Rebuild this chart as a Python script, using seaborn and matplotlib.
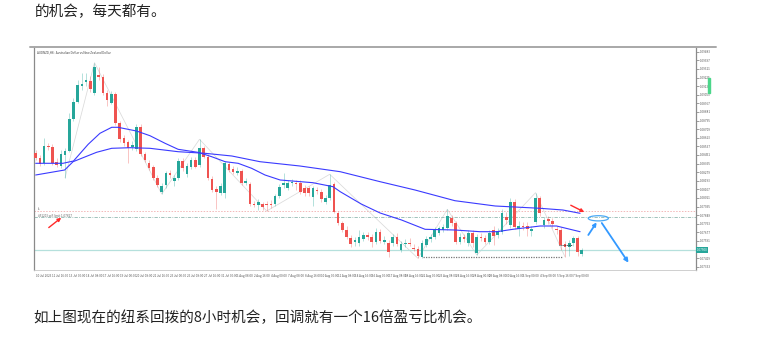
import numpy as np
import pandas as pd
import matplotlib
matplotlib.use("Agg")
import matplotlib.pyplot as plt
import seaborn as sns
from matplotlib.patches import Ellipse, Rectangle
from matplotlib.lines import Line2D

# ---- data (H8 candles) ----
opens = [1.08470, 1.08423, 1.08367, 1.08543, 1.08533, 1.08383, 1.08343, 1.08450, 1.08493, 1.08810,
         1.08983, 1.09143, 1.09183, 1.09190, 1.09067, 1.09250, 1.09233, 1.09073, 1.08973, 1.09060,
         1.08767, 1.08617, 1.08577, 1.08530, 1.08510, 1.08733, 1.08457, 1.08373, 1.08327, 1.08223,
         1.08083, 1.08150, 1.08267, 1.08193, 1.08223, 1.08390, 1.08257, 1.08333, 1.08400, 1.08350,
         1.08517, 1.08433, 1.08207, 1.08107, 1.08073, 1.08073, 1.08357, 1.08313, 1.08273, 1.08290,
         1.08173, 1.08160, 1.07963, 1.07953, 1.07957, 1.07963, 1.07963, 1.07957, 1.08040, 1.08150,
         1.08117, 1.08167, 1.08173, 1.08173, 1.08123, 1.08117, 1.08033, 1.08100, 1.08083, 1.07983,
         1.08017, 1.08160, 1.07867, 1.07767, 1.07700, 1.07623, 1.07583, 1.07567, 1.07607, 1.07650,
         1.07627, 1.07583, 1.07683, 1.07583, 1.07567, 1.07567, 1.07633, 1.07500, 1.07557, 1.07573,
         1.07523, 1.07510, 1.07433, 1.07550, 1.07607, 1.07627, 1.07667, 1.07700, 1.07717, 1.07817,
         1.07767, 1.07583, 1.07627, 1.07567, 1.07667, 1.07467, 1.07633, 1.07617, 1.07583, 1.07700,
         1.07650, 1.07683, 1.07833, 1.07750, 1.07983, 1.07707, 1.07740, 1.07740, 1.07693, 1.07783,
         1.08017, 1.07750, 1.07810, 1.07793, 1.07707, 1.07700, 1.07557, 1.07527, 1.07567, 1.07617,
         1.07457]
highs = [1.08500, 1.08450, 1.08620, 1.08570, 1.08560, 1.08420, 1.08500, 1.08520, 1.08870, 1.09020,
         1.09200, 1.09270, 1.09270, 1.09240, 1.09373, 1.09330, 1.09260, 1.09100, 1.09090, 1.09080,
         1.08790, 1.08650, 1.08600, 1.08590, 1.08760, 1.08760, 1.08480, 1.08400, 1.08350, 1.08250,
         1.08170, 1.08290, 1.08300, 1.08250, 1.08420, 1.08420, 1.08370, 1.08430, 1.08430, 1.08607,
         1.08540, 1.08460, 1.08240, 1.08140, 1.08170, 1.08390, 1.08380, 1.08340, 1.08330, 1.08310,
         1.08220, 1.08180, 1.07990, 1.08010, 1.07980, 1.07990, 1.08000, 1.08060, 1.08160, 1.08267,
         1.08200, 1.08210, 1.08200, 1.08200, 1.08150, 1.08140, 1.08140, 1.08130, 1.08110, 1.08050,
         1.08257, 1.08180, 1.07890, 1.07790, 1.07740, 1.07650, 1.07630, 1.07700, 1.07680, 1.07680,
         1.07660, 1.07720, 1.07710, 1.07640, 1.07600, 1.07660, 1.07670, 1.07590, 1.07610, 1.07620,
         1.07560, 1.07540, 1.07600, 1.07640, 1.07660, 1.07730, 1.07740, 1.07760, 1.07907, 1.07850,
         1.07790, 1.07670, 1.07660, 1.07700, 1.07700, 1.07660, 1.07670, 1.07650, 1.07700, 1.07740,
         1.07720, 1.07910, 1.07880, 1.08020, 1.08010, 1.07790, 1.07780, 1.07780, 1.07740, 1.08073,
         1.08040, 1.07830, 1.07840, 1.07820, 1.07740, 1.07730, 1.07590, 1.07600, 1.07640, 1.07640,
         1.07520]
lows = [1.08400, 1.08340, 1.08350, 1.08500, 1.08350, 1.08330, 1.08320, 1.08223, 1.08480, 1.08790,
        1.08970, 1.09100, 1.09140, 1.09080, 1.09050, 1.09200, 1.09050, 1.08940, 1.08960, 1.08750,
        1.08580, 1.08540, 1.08370, 1.08500, 1.08490, 1.08440, 1.08380, 1.08300, 1.08200, 1.08130,
        1.08060, 1.08120, 1.08220, 1.08140, 1.08200, 1.08290, 1.08230, 1.08310, 1.08320, 1.08330,
        1.08420, 1.08200, 1.08080, 1.07910, 1.08050, 1.08020, 1.08280, 1.08260, 1.08250, 1.08150,
        1.08150, 1.07940, 1.07930, 1.07900, 1.07900, 1.07890, 1.07920, 1.07940, 1.08020, 1.08120,
        1.08100, 1.08140, 1.08100, 1.08060, 1.08040, 1.08040, 1.07943, 1.08060, 1.07980, 1.07960,
        1.08000, 1.07870, 1.07750, 1.07680, 1.07610, 1.07530, 1.07540, 1.07540, 1.07590, 1.07600,
        1.07530, 1.07560, 1.07570, 1.07560, 1.07430, 1.07540, 1.07540, 1.07480, 1.07530, 1.07540,
        1.07490, 1.07417, 1.07420, 1.07530, 1.07580, 1.07610, 1.07650, 1.07680, 1.07700, 1.07740,
        1.07560, 1.07560, 1.07580, 1.07540, 1.07530, 1.07450, 1.07590, 1.07560, 1.07560, 1.07550,
        1.07620, 1.07660, 1.07760, 1.07720, 1.07710, 1.07640, 1.07700, 1.07640, 1.07640, 1.07760,
        1.07840, 1.07720, 1.07760, 1.07720, 1.07660, 1.07500, 1.07433, 1.07440, 1.07540, 1.07440,
        1.07440]
closes = [1.08420, 1.08360, 1.08543, 1.08530, 1.08367, 1.08350, 1.08460, 1.08493, 1.08810, 1.08983,
          1.09150, 1.09157, 1.09197, 1.09110, 1.09327, 1.09233, 1.09067, 1.09000, 1.09060, 1.08767,
          1.08610, 1.08567, 1.08517, 1.08550, 1.08733, 1.08457, 1.08400, 1.08317, 1.08217, 1.08150,
          1.08140, 1.08267, 1.08250, 1.08223, 1.08390, 1.08317, 1.08340, 1.08400, 1.08333, 1.08523,
          1.08433, 1.08217, 1.08100, 1.08077, 1.08140, 1.08367, 1.08300, 1.08283, 1.08293, 1.08173,
          1.08193, 1.07960, 1.07953, 1.07977, 1.07933, 1.07950, 1.07950, 1.08040, 1.08133, 1.08167,
          1.08173, 1.08180, 1.08160, 1.08083, 1.08067, 1.08067, 1.08117, 1.08090, 1.08007, 1.08023,
          1.08150, 1.07883, 1.07773, 1.07700, 1.07633, 1.07560, 1.07600, 1.07633, 1.07650, 1.07627,
          1.07583, 1.07683, 1.07590, 1.07600, 1.07477, 1.07627, 1.07560, 1.07557, 1.07573, 1.07560,
          1.07513, 1.07440, 1.07567, 1.07607, 1.07633, 1.07700, 1.07717, 1.07733, 1.07840, 1.07767,
          1.07583, 1.07633, 1.07607, 1.07667, 1.07567, 1.07633, 1.07617, 1.07583, 1.07667, 1.07640,
          1.07690, 1.07867, 1.07800, 1.07983, 1.07733, 1.07740, 1.07733, 1.07707, 1.07707, 1.08017,
          1.07867, 1.07800, 1.07790, 1.07760, 1.07697, 1.07550, 1.07533, 1.07573, 1.07617, 1.07483,
          1.07500]

# moving averages, read at a handful of bars
ma_fast_bar = [0, 6.5, 9, 12.5, 15.3, 18.1, 19.6, 24, 27.2, 30.8, 33.9, 38.6, 41.9, 45.1, 48.2,
               51.4, 54.6, 58.2, 66, 70.8, 72.5, 77.5, 82, 87.1, 92.7, 99.8, 105.8, 109.8, 113.6,
               120.1, 124, 129.6]
ma_fast = [1.08367, 1.08367, 1.08390, 1.08557, 1.08667, 1.08727, 1.08727, 1.08690, 1.08643, 1.08567,
           1.08507, 1.08477, 1.08433, 1.08383, 1.08367, 1.08317, 1.08250, 1.08200, 1.08173, 1.08133,
           1.08083, 1.07960, 1.07870, 1.07800, 1.07707, 1.07700, 1.07683, 1.07683, 1.07707, 1.07740,
           1.07740, 1.07683]
ma_slow_bar = [0, 6.9, 8.9, 14.5, 18.1, 22.5, 27.2, 33.9, 40.3, 46.7, 53.4, 62.9, 72.5, 82, 90.3,
               99.8, 109.4, 120.1, 125.5, 129.6]
ma_slow = [1.08250, 1.08300, 1.08383, 1.08477, 1.08517, 1.08523, 1.08517, 1.08483, 1.08467, 1.08440,
           1.08383, 1.08340, 1.08283, 1.08183, 1.08100, 1.07993, 1.07940, 1.07917, 1.07900, 1.07867]

zigzag_bar = [7, 14, 30, 39, 55, 70, 91, 98, 105, 119, 126]
zigzag_px = [1.08223, 1.09373, 1.08060, 1.08607, 1.07890, 1.08257, 1.07417, 1.07907, 1.07450,
             1.08073, 1.07433]

stop_level = 1.07890
sell_limit = 1.07827
bid_price = 1.07500
support_level = 1.07427

# right scale labels (the one under the bid tag is covered by the tag)
price_ticks = [1.09483, 1.09397, 1.09311, 1.09225, 1.09139, 1.09053, 1.08967, 1.08881, 1.08795,
               1.08709, 1.08623, 1.08537, 1.08451, 1.08365, 1.08279, 1.08193, 1.08107, 1.08021,
               1.07935, 1.07849, 1.07763, 1.07677, 1.07591, 1.07419, 1.07333]
time_labels = ["10 Jul 2023", "11 Jul 16:00", "13 Jul 00:00", "14 Jul 08:00", "17 Jul 16:00",
               "19 Jul 00:00", "20 Jul 08:00", "21 Jul 16:00", "25 Jul 00:00", "26 Jul 08:00",
               "27 Jul 16:00", "31 Jul 00:00", "1 Aug 08:00", "2 Aug 16:00", "4 Aug 00:00",
               "7 Aug 08:00", "8 Aug 16:00", "10 Aug 00:00", "11 Aug 08:00", "14 Aug 16:00",
               "16 Aug 00:00", "17 Aug 08:00", "18 Aug 16:00", "22 Aug 00:00", "23 Aug 08:00",
               "24 Aug 16:00", "28 Aug 00:00", "29 Aug 08:00", "30 Aug 16:00", "1 Sep 00:00",
               "4 Sep 08:00", "5 Sep 16:00", "7 Sep 00:00"]

df = pd.DataFrame({"open": opens, "high": highs, "low": lows, "close": closes})
df["bar"] = np.arange(len(df))
up = df["close"] >= df["open"]

GREEN = "#26a69a"
RED = "#ef5350"

sns.set_theme(style="white")
plt.rcParams["font.family"] = ["Noto Sans CJK SC", "DejaVu Sans"]

W, H = 783, 354
fig = plt.figure(figsize=(W / 100, H / 100), dpi=100, facecolor="white")

fig.text(35 / W, 1 - 12 / H, "的机会，每天都有。", fontsize=10.5, va="center", color="#222222")
fig.text(33 / W, 1 - 318 / H, "如上图现在的纽系回拨的8小时机会，回调就有一个16倍盈亏比机会。",
         fontsize=10.5, va="center", color="#222222")

# screenshot frame
fig.add_artist(Line2D([30 / W, 716 / W], [1 - 46.5 / H] * 2, color="#a8a8a8", lw=1.4))

ax = fig.add_axes([34 / W, 1 - 270 / H, (696 - 34) / W, (270 - 47) / H])
ax.set_facecolor("white")
ax.set_xlim(-0.4, 157.2)
ax.set_ylim(1.0730, 1.0953)

# wicks + bodies
cols = np.where(up, GREEN, RED)
ax.vlines(df["bar"], df["low"], df["high"], colors=cols, lw=0.6, alpha=0.4, zorder=2)
body = (df["close"] - df["open"]).abs().clip(lower=0.000012)
ax.bar(df["bar"], body, bottom=df[["open", "close"]].min(axis=1), width=0.65,
       color=cols, linewidth=0, zorder=3)

# zigzag + moving averages
sns.lineplot(x=zigzag_bar, y=zigzag_px, ax=ax, color="#dadada", lw=0.55, zorder=1)
sns.lineplot(x=ma_slow_bar, y=ma_slow, ax=ax, color="#3a3aff", lw=0.8, zorder=4)
sns.lineplot(x=ma_fast_bar, y=ma_fast, ax=ax, color="#3a3aff", lw=0.8, zorder=4)

# levels
ax.axhline(stop_level, color="#f2b8b8", lw=0.7, ls=(0, (1.5, 1.5)), zorder=1)
ax.axhline(sell_limit, color="#8fb8b0", lw=0.6, ls=(0, (4, 1.5, 1, 1.5)), zorder=1)
ax.axhline(bid_price, color="#b5e0dc", lw=0.9, zorder=1)
ax.hlines(support_level, 92.2, 125.3, color="#777777", lw=0.9, ls=(0, (1, 1)), zorder=1)
ax.hlines(1.07550, 124.6, 127.7, color="#333333", lw=0.7, ls=(0, (1, 1)), zorder=5)

ax.text(0.6, sell_limit + 0.00004, "#51203 sell limit 1.07827", fontsize=2.2, color="#666666")
ax.text(0.6, stop_level + 0.00008, "sl", fontsize=2.2, color="#666666")
ax.text(0.005, 0.985, "AUDNZD,H8:  Australian Dollar vs New Zealand Dollar", transform=ax.transAxes,
        fontsize=2.2, va="top", color="#444444")

# annotations
ax.annotate("", xy=(6.6, 1.07840), xytext=(2.6, 1.07707),
            arrowprops=dict(arrowstyle="-|>", color="#ff2a2a", lw=1.0, mutation_scale=5))
ax.annotate("", xy=(131.2, 1.07867), xytext=(126.8, 1.07960),
            arrowprops=dict(arrowstyle="-|>", color="#ff2a2a", lw=1.0, mutation_scale=5))
ax.add_patch(Ellipse((133.95, 1.07817), width=4.8, height=0.00052, fill=False,
                     ec="#4aa8f5", lw=0.9, zorder=6))
ax.annotate("", xy=(133.9, 1.07800), xytext=(131.2, 1.07627),
            arrowprops=dict(arrowstyle="-|>", color="#3399ff", lw=1.3, mutation_scale=5))
ax.annotate("", xy=(141.5, 1.07350), xytext=(134.4, 1.07793),
            arrowprops=dict(arrowstyle="-|>", color="#3399ff", lw=1.3, mutation_scale=6))

# price tag
ax.text(1.001, bid_price, "1.07500", transform=ax.get_yaxis_transform(),
        fontsize=2.2, color="white", va="center", ha="left",
        bbox=dict(boxstyle="square,pad=0.3", fc="#26a69a", ec="none"))
fig.add_artist(Rectangle((708 / W, 1 - 93 / H), 2 / W, 15 / H, color="#4cd68a"))

# axes look
ax.yaxis.tick_right()
ax.set_yticks(price_ticks)
ax.set_yticklabels([f"{v:.5f}" for v in price_ticks])
ax.set_xticks(np.arange(0, 4 * len(time_labels), 4))
ax.set_xticklabels(time_labels, ha="left")
ax.tick_params(axis="both", labelsize=2.2, colors="#555555", length=2, width=0.4, pad=1)
for s in ("left", "right"):
    ax.spines[s].set_color("#8a8a8a")
    ax.spines[s].set_linewidth(0.9)
ax.spines["bottom"].set_color("#c8c8c8")
ax.spines["bottom"].set_linewidth(0.6)
ax.spines["top"].set_visible(False)
ax.set_xlabel("")
ax.set_ylabel("")

fig.savefig("out.png", dpi=100, facecolor="white")
